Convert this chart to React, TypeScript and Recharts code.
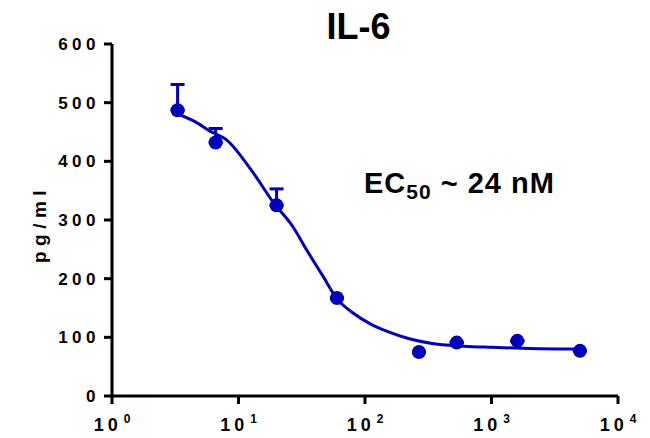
import React from "react";
import {
  ComposedChart,
  Line,
  Scatter,
  ErrorBar,
  XAxis,
  YAxis,
} from "recharts";

const concentrations = [3.3, 6.6, 20, 60, 267, 531, 1600, 5000];
const il6Values = [487, 432, 325, 167, 75, 91, 94, 77];
const il6Errors = [44, 24, 28, 0, 0, 0, 0, 0];

const fitX = [3.3, 4.5, 6, 8, 13, 19, 27, 35, 46, 60, 81, 110, 150, 220, 330, 600, 1000, 2000, 5000];
const fitY = [481, 468, 451, 437, 381, 329, 288, 247, 206, 166, 141, 123, 110, 98, 90, 85, 83, 81, 80];

const xTicks = [1, 10, 100, 1000, 10000];
const xTickExp = ["0", "1", "2", "3", "4"];
const yTicks = [0, 100, 200, 300, 400, 500, 600];

const blue = "#0000bb";
const font = "'Liberation Sans', Arial, sans-serif";

const points = concentrations.map((x, i) => ({
  x,
  y: il6Values[i],
  err: [0, il6Errors[i]],
}));
const fitData = fitX.map((x, i) => ({ x, y: fitY[i] }));

const XTick = (props: any) => {
  const { x, y, payload } = props;
  const idx = xTicks.indexOf(payload.value);
  return (
    <text
      x={x}
      y={y + 25}
      textAnchor="middle"
      fontFamily={font}
      fontWeight="bold"
      fill="#000"
    >
      <tspan fontSize={18} letterSpacing={4}>10</tspan>
      <tspan fontSize={12} dx={2} dy={-8}>{xTickExp[idx]}</tspan>
    </text>
  );
};

const YTick = (props: any) => {
  const { x, y, payload } = props;
  return (
    <text
      x={x - 2}
      y={y + 6}
      textAnchor="end"
      fontFamily={font}
      fontWeight="bold"
      fontSize={17}
      letterSpacing={4.5}
      fill="#000"
    >
      {payload.value}
    </text>
  );
};

const Dot = (props: any) => <circle cx={props.cx} cy={props.cy} r={7} fill={blue} />;

export default function App() {
  return (
    <div style={{ position: "absolute", left: 0, top: 0, background: "#fff" }}>
      <div style={{ position: "relative", width: 650, height: 438 }}>
        <div
          style={{
            position: "absolute",
            left: 0,
            width: 717,
            top: 6,
            textAlign: "center",
            fontFamily: font,
            fontWeight: "bold",
            fontSize: 36,
          }}
        >
          IL-6
        </div>
        <div
          style={{
            position: "absolute",
            left: 364,
            top: 167,
            fontFamily: font,
            fontWeight: "bold",
            fontSize: 29,
            whiteSpace: "nowrap",
            letterSpacing: 1,
          }}
        >
          EC<sub style={{ fontSize: 21, verticalAlign: "-6px" }}>50</sub> ~ 24 nM
        </div>
        <div
          style={{
            position: "absolute",
            left: 40,
            top: 224,
            transform: "translate(-50%, -50%) rotate(-90deg)",
            fontFamily: font,
            fontWeight: "bold",
            fontSize: 19,
            letterSpacing: 5.5,
            whiteSpace: "nowrap",
          }}
        >
          pg/ml
        </div>
        <ComposedChart
          width={650}
          height={438}
          margin={{ top: 44, right: 32, bottom: 12, left: 52 }}
        >
          <XAxis
            type="number"
            dataKey="x"
            scale="log"
            domain={[1, 10000]}
            ticks={xTicks}
            allowDataOverflow
            axisLine={{ stroke: "#000", strokeWidth: 3 }}
            tickLine={{ stroke: "#000", strokeWidth: 3 }}
            tickSize={8}
            tick={<XTick />}
            height={30}
          />
          <YAxis
            type="number"
            dataKey="y"
            domain={[0, 600]}
            ticks={yTicks}
            axisLine={{ stroke: "#000", strokeWidth: 3 }}
            tickLine={{ stroke: "#000", strokeWidth: 3 }}
            tickSize={8}
            tick={<YTick />}
            width={60}
          />
          <Line
            data={fitData}
            dataKey="y"
            type="monotone"
            stroke={blue}
            strokeWidth={3}
            dot={false}
            isAnimationActive={false}
          />
          <Scatter
            data={points}
            dataKey="y"
            fill={blue}
            shape={<Dot />}
            isAnimationActive={false}
          >
            <ErrorBar
              dataKey="err"
              direction="y"
              width={7}
              stroke={blue}
              strokeWidth={3}
            />
          </Scatter>
        </ComposedChart>
      </div>
    </div>
  );
}
